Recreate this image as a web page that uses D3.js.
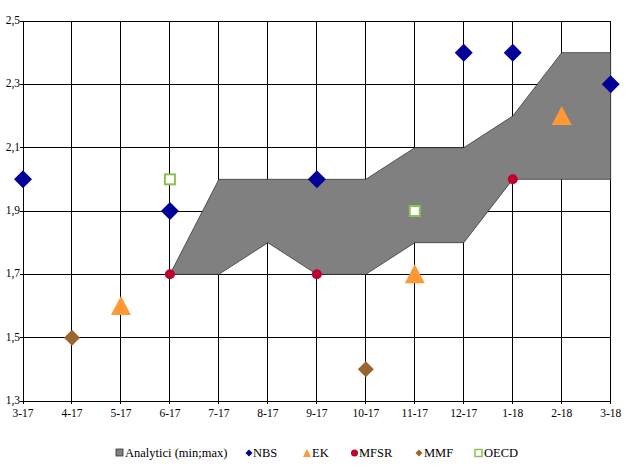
<!DOCTYPE html>
<html><head><meta charset="utf-8">
<script src="https://cdn.jsdelivr.net/npm/d3@7"></script>
<style>body{margin:0;background:#fff}</style>
</head><body><svg id="c" width="628" height="474"></svg>
<script>
const categories = ["3-17","4-17","5-17","6-17","7-17","8-17","9-17","10-17","11-17","12-17","1-18","2-18","3-18"];
const yTicks = [1.3,1.5,1.7,1.9,2.1,2.3,2.5];
// Analysts range (min;max), from 6-17 to 3-18
const rangeCats = ["6-17","7-17","8-17","9-17","10-17","11-17","12-17","1-18","2-18","3-18"];
const rangeMin  = [1.7,1.7,1.8,1.7,1.7,1.8,1.8,2.0,2.0,2.0];
const rangeMax  = [1.7,2.0,2.0,2.0,2.0,2.1,2.1,2.2,2.4,2.4];
const nbsCats = ["3-17","6-17","9-17","12-17","1-18","3-18"];
const nbsVals = [2.0,1.9,2.0,2.4,2.4,2.3];
const ekCats = ["5-17","11-17","2-18"];
const ekVals = [1.6,1.7,2.2];
const mfsrCats = ["6-17","9-17","1-18"];
const mfsrVals = [1.7,1.7,2.0];
const mmfCats = ["4-17","10-17"];
const mmfVals = [1.5,1.4];
const oecdCats = ["6-17","11-17"];
const oecdVals = [2.0,1.9];

const FONT = "'Liberation Serif'";
const svg = d3.select("#c");
const L=23, R=610.7, T=21, B=401;
const x = d3.scalePoint().domain(categories).range([L,R]);
const y = d3.scaleLinear().domain([1.3,2.5]).range([B,T]);
const fmt = d => d3.format(".1f")(d).replace(".", ",");

// gridlines
const g = svg.append("g");
g.selectAll(".h").data(yTicks).join("line")
  .attr("x1",L-3).attr("x2",R).attr("y1",d=>y(d)).attr("y2",d=>y(d))
  .attr("stroke","#000").attr("stroke-width",1).attr("shape-rendering","crispEdges");
g.selectAll(".v").data(categories).join("line")
  .attr("x1",d=>x(d)).attr("x2",d=>x(d)).attr("y1",T).attr("y2",B+3)
  .attr("stroke","#000").attr("stroke-width",1).attr("shape-rendering","crispEdges");

// y labels
svg.append("g").selectAll("text").data(yTicks).join("text")
  .attr("x",L-3).attr("y",d=>y(d)+3).attr("text-anchor","end")
  .attr("font-family",FONT).attr("font-size",11.5).attr("fill","#000").text(fmt);
// x labels
svg.append("g").selectAll("text").data(categories).join("text")
  .attr("x",d=>x(d)).attr("y",B+16).attr("text-anchor","middle")
  .attr("font-family",FONT).attr("font-size",11.5).attr("fill","#000").text(d=>d);

// range area
const rangeData = rangeCats.map((c,i)=>({c, lo:rangeMin[i], hi:rangeMax[i]}));
const area = d3.area().x(d=>x(d.c)).y0(d=>y(d.lo)).y1(d=>y(d.hi));
svg.append("path").datum(rangeData).attr("d",area)
  .attr("fill","#808080").attr("stroke","#3a3a3a").attr("stroke-width",0.8);

// markers
const pts = (cats,vals) => cats.map((c,i)=>({c,v:vals[i]}));
const diamond = s => `M0,${-s}L${s},0L0,${s}L${-s},0Z`;

svg.append("g").selectAll("path").data(pts(nbsCats,nbsVals)).join("path")
  .attr("transform",d=>`translate(${x(d.c)},${y(d.v)})`).attr("d",diamond(9)).attr("fill","#000099");
svg.append("g").selectAll("path").data(pts(ekCats,ekVals)).join("path")
  .attr("transform",d=>`translate(${x(d.c)},${y(d.v)})`).attr("d","M0,-10L10,9L-10,9Z").attr("fill","#FF9933");
svg.append("g").selectAll("circle").data(pts(mfsrCats,mfsrVals)).join("circle")
  .attr("cx",d=>x(d.c)).attr("cy",d=>y(d.v)).attr("r",5).attr("fill","#C0002F");
svg.append("g").selectAll("path").data(pts(mmfCats,mmfVals)).join("path")
  .attr("transform",d=>`translate(${x(d.c)},${y(d.v)})`).attr("d",diamond(8)).attr("fill","#9C6530");
svg.append("g").selectAll("rect").data(pts(oecdCats,oecdVals)).join("rect")
  .attr("x",d=>x(d.c)-5).attr("y",d=>y(d.v)-5).attr("width",10).attr("height",10)
  .attr("fill","#fff").attr("stroke","#8CC152").attr("stroke-width",2);

// legend
const ly = 453;
const leg = svg.append("g");
const lt = (xx,t) => leg.append("text").attr("x",xx).attr("y",ly+4).attr("font-family",FONT).attr("font-size",12.5).attr("fill","#000").text(t);
leg.append("rect").attr("x",116).attr("y",ly-4).attr("width",7).attr("height",7).attr("fill","#808080").attr("stroke","#333").attr("stroke-width",0.8);
lt(125,"Analytici (min;max)");
leg.append("path").attr("transform",`translate(249,${ly})`).attr("d",diamond(3.5)).attr("fill","#000099");
lt(253,"NBS");
leg.append("path").attr("transform",`translate(307,${ly})`).attr("d","M0,-4L4,4L-4,4Z").attr("fill","#FF9933");
lt(312,"EK");
leg.append("circle").attr("cx",354.5).attr("cy",ly).attr("r",3.5).attr("fill","#C0002F");
lt(359,"MFSR");
leg.append("path").attr("transform",`translate(419,${ly})`).attr("d",diamond(3.5)).attr("fill","#9C6530");
lt(424,"MMF");
leg.append("rect").attr("x",475).attr("y",ly-3.5).attr("width",7).attr("height",7).attr("fill","#fff").attr("stroke","#8CC152").attr("stroke-width",1.5);
lt(484,"OECD");
</script></body></html>
